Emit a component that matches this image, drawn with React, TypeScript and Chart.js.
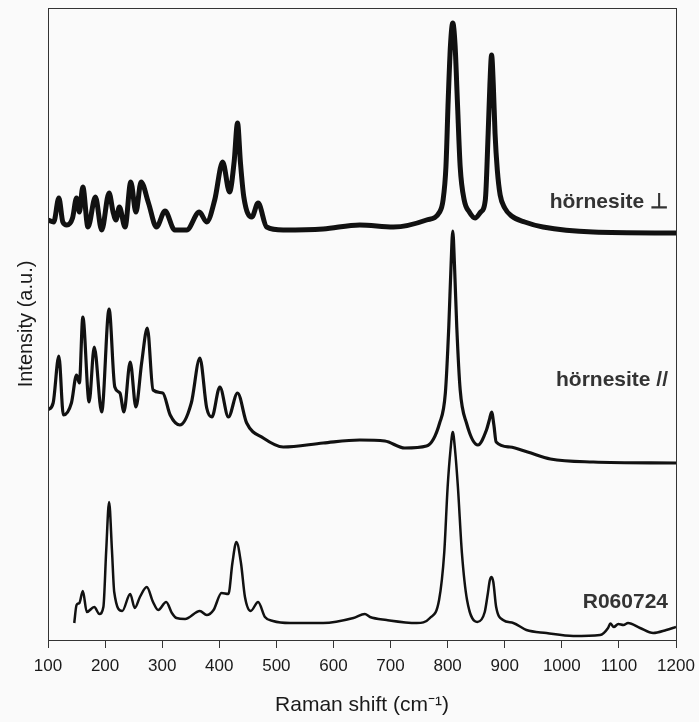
import React, { useEffect, useRef } from "react";
import { Chart, registerables } from "chart.js";

Chart.register(...registerables);

// Raman shift positions (cm-1) and intensities (a.u., stacked offsets included)
const perpX = [100, 110, 119, 126, 133, 143, 150, 155, 161, 170, 183, 194, 207, 214, 219, 225, 235, 245, 254, 263, 276, 290, 305, 322, 343, 365, 378, 392, 406, 418, 426, 432, 437, 443, 457, 468, 483, 512, 582, 646, 705, 763, 786, 792, 797, 801, 805, 809, 813, 817, 822, 829, 838, 848, 858, 866, 871, 874, 877, 880, 883, 887, 892, 900, 912, 935, 967, 1055, 1200];
const perpY = [420, 418, 442, 418, 415, 422, 442, 428, 453, 413, 443, 410, 447, 428, 420, 433, 413, 458, 428, 458, 437, 413, 429, 410, 410, 428, 418, 440, 478, 448, 478, 517, 478, 443, 423, 437, 413, 410, 411, 415, 413, 420, 428, 440, 473, 540, 595, 617, 595, 540, 473, 440, 428, 422, 428, 440, 507, 555, 585, 555, 507, 470, 445, 432, 424, 418, 413, 408, 407];

const paraX = [100, 109, 119, 127, 141, 150, 155, 161, 172, 181, 194, 207, 217, 226, 233, 244, 254, 264, 274, 284, 301, 314, 331, 351, 366, 378, 387, 401, 416, 432, 448, 477, 512, 582, 646, 690, 725, 763, 786, 796, 802, 806, 809, 812, 816, 822, 833, 853, 868, 873, 877, 881, 885, 909, 940, 980, 1055, 1200];
const paraY = [230, 237, 284, 225, 237, 265, 257, 323, 238, 293, 228, 331, 253, 247, 228, 278, 233, 277, 312, 250, 247, 225, 215, 237, 282, 232, 223, 253, 223, 247, 217, 202, 193, 197, 200, 199, 192, 194, 217, 247, 313, 375, 409, 375, 313, 250, 217, 195, 210, 220, 228, 215, 198, 193, 188, 181, 178, 177];

const refX = [146, 150, 155, 161, 168, 181, 190, 197, 202, 207, 212, 216, 230, 244, 252, 261, 273, 284, 293, 307, 317, 325, 340, 366, 378, 390, 404, 416, 423, 430, 438, 445, 455, 468, 480, 494, 524, 582, 635, 655, 664, 693, 746, 769, 785, 794, 800, 805, 809, 813, 818, 825, 834, 852, 865, 870, 874, 877, 880, 885, 897, 915, 938, 973, 1020, 1067, 1081, 1085, 1091, 1099, 1108, 1116, 1137, 1160, 1183, 1200];
const refY = [17, 35, 37, 49, 28, 33, 26, 33, 90, 138, 90, 48, 29, 46, 32, 43, 53, 38, 30, 38, 27, 22, 21, 29, 25, 30, 47, 46, 77, 98, 77, 43, 29, 38, 23, 19, 17, 17, 22, 26, 23, 20, 17, 22, 40, 87, 153, 190, 208, 190, 153, 87, 40, 18, 28, 45, 60, 63, 58, 33, 20, 17, 10, 7, 4, 5, 12, 16.5, 13, 16, 15, 17, 12, 7, 10, 13];

const seriesNames = ["hörnesite ⊥", "hörnesite //", "R060724"];
const labelYs = [438, 260, 38];
const labelX = 1186;

const xTicks = [100, 200, 300, 400, 500, 600, 700, 800, 900, 1000, 1100, 1200];

const toPoints = (xs: number[], ys: number[]) => xs.map((x, i) => ({ x, y: ys[i] }));

export default function App() {
  const ref = useRef<HTMLCanvasElement | null>(null);

  useEffect(() => {
    if (!ref.current) return;

    const bgPlugin = {
      id: "bg",
      beforeDraw(chart: any) {
        const { ctx, width, height } = chart;
        ctx.save();
        ctx.fillStyle = "#fafafa";
        ctx.fillRect(0, 0, width, height);
        ctx.restore();
      },
    };

    const framePlugin = {
      id: "frame",
      afterDraw(chart: any) {
        const { ctx, chartArea } = chart;
        ctx.save();
        ctx.strokeStyle = "#333333";
        ctx.lineWidth = 1;
        ctx.strokeRect(chartArea.left + 0.5, chartArea.top + 0.5, chartArea.right - chartArea.left, chartArea.bottom - chartArea.top);
        ctx.restore();
      },
    };

    const labelPlugin = {
      id: "seriesLabels",
      afterDatasetsDraw(chart: any) {
        const { ctx, scales } = chart;
        ctx.save();
        ctx.fillStyle = "#333333";
        ctx.font = "bold 21px 'Liberation Sans', Arial, sans-serif";
        ctx.textAlign = "right";
        ctx.textBaseline = "middle";
        seriesNames.forEach((name, i) => {
          ctx.fillText(name, scales.x.getPixelForValue(labelX), scales.y.getPixelForValue(labelYs[i]));
        });
        ctx.restore();
      },
    };

    const mk = (label: string, xs: number[], ys: number[], w: number) => ({
      label,
      data: toPoints(xs, ys),
      borderColor: "#111111",
      borderWidth: w,
      pointRadius: 0,
      fill: false,
      cubicInterpolationMode: "monotone" as const,
    });

    const chart = new Chart(ref.current, {
      type: "line",
      data: {
        datasets: [
          mk(seriesNames[0], perpX, perpY, 5),
          mk(seriesNames[1], paraX, paraY, 3.2),
          mk(seriesNames[2], refX, refY, 2.5),
        ],
      },
      options: {
        responsive: false,
        animation: false,
        layout: { padding: { left: 0, right: 23, top: 8, bottom: 0 } },
        plugins: { legend: { display: false }, tooltip: { enabled: false } },
        scales: {
          x: {
            type: "linear",
            min: 100,
            max: 1200,
            afterBuildTicks: (scale: any) => {
              scale.ticks = xTicks.map((v) => ({ value: v }));
            },
            afterFit: (scale: any) => {
              scale.height = 82;
              scale.paddingLeft = 0;
              scale.paddingRight = 0;
            },
            ticks: {
              color: "#1a1a1a",
              font: { size: 17, family: "'Liberation Sans', Arial, sans-serif" },
              padding: 8,
              maxRotation: 0,
              autoSkip: false,
              callback: (v: any) => String(v),
            },
            grid: {
              drawOnChartArea: false,
              drawTicks: true,
              tickLength: 8,
              tickColor: "#333333",
            },
            border: { color: "#333333" },
            title: {
              display: true,
              text: "Raman shift (cm⁻¹)",
              color: "#1a1a1a",
              font: { size: 21, family: "'Liberation Sans', Arial, sans-serif" },
              padding: { top: 4, bottom: 4 },
            },
          },
          y: {
            min: 0,
            max: 632,
            afterFit: (scale: any) => {
              scale.width = 48;
            },
            ticks: { display: false },
            grid: { display: false, drawTicks: false },
            border: { color: "#333333" },
            title: {
              display: true,
              text: "Intensity (a.u.)",
              color: "#1a1a1a",
              font: { size: 20, family: "'Liberation Sans', Arial, sans-serif" },
              padding: { top: 14, bottom: 0 },
            },
          },
        },
      },
      plugins: [bgPlugin, framePlugin, labelPlugin],
    });

    return () => chart.destroy();
  }, []);

  return (
    <div style={{ position: "absolute", left: 0, top: 0, width: 699, height: 722 }}>
      <canvas ref={ref} width={699} height={722} style={{ display: "block" }} />
    </div>
  );
}
